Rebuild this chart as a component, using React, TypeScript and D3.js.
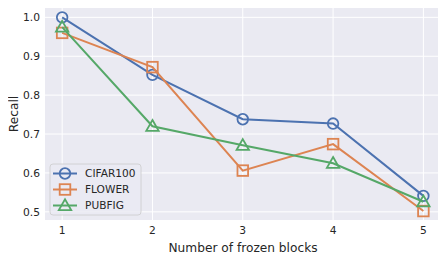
import React, { useEffect, useRef } from 'react';
import * as d3 from 'd3';

const blocks = [1, 2, 3, 4, 5];
const cifar100 = [1.0, 0.852, 0.738, 0.727, 0.541];
const flower = [0.96, 0.872, 0.606, 0.674, 0.502];
const pubfig = [0.975, 0.72, 0.671, 0.625, 0.526];
const yTicks = [0.5, 0.6, 0.7, 0.8, 0.9, 1.0];

const seriesList = [
  { name: 'CIFAR100', values: cifar100, color: '#4c72b0', marker: 'circle' },
  { name: 'FLOWER', values: flower, color: '#dd8452', marker: 'square' },
  { name: 'PUBFIG', values: pubfig, color: '#55a868', marker: 'triangle' },
];

const App: React.FC = () => {
  const svgRef = useRef<SVGSVGElement>(null);

  useEffect(() => {
    if (!svgRef.current) return;
    const svg = d3.select(svgRef.current);
    svg.selectAll('*').remove();

    const width = 446;
    const height = 260;
    const margin = { top: 8, right: 5, bottom: 40, left: 45 };
    const font = 'DejaVu Sans, sans-serif';

    const x = d3.scaleLinear().domain([0.81, 5.195]).range([margin.left, width - margin.right]);
    const y = d3.scaleLinear().domain([0.479, 1.024]).range([height - margin.bottom, margin.top]);

    svg.append('rect')
      .attr('x', margin.left).attr('y', margin.top)
      .attr('width', width - margin.left - margin.right)
      .attr('height', height - margin.top - margin.bottom)
      .attr('fill', '#eaeaf2');

    // grid
    svg.append('g').selectAll('line').data(blocks).enter().append('line')
      .attr('x1', d => x(d)).attr('x2', d => x(d))
      .attr('y1', margin.top).attr('y2', height - margin.bottom)
      .attr('stroke', '#fff').attr('stroke-width', 1);
    svg.append('g').selectAll('line').data(yTicks).enter().append('line')
      .attr('y1', d => y(d)).attr('y2', d => y(d))
      .attr('x1', margin.left).attr('x2', width - margin.right)
      .attr('stroke', '#fff').attr('stroke-width', 1);

    // tick labels
    svg.append('g').selectAll('text').data(blocks).enter().append('text')
      .attr('x', d => x(d)).attr('y', height - margin.bottom + 14)
      .attr('text-anchor', 'middle').attr('font-family', font).attr('font-size', 10.7)
      .attr('fill', '#262626').text(d => String(d));
    svg.append('g').selectAll('text').data(yTicks).enter().append('text')
      .attr('x', margin.left - 5).attr('y', d => y(d)).attr('dy', '0.35em')
      .attr('text-anchor', 'end').attr('font-family', font).attr('font-size', 10.7)
      .attr('fill', '#262626').text(d => d.toFixed(1));

    svg.append('text')
      .attr('x', (margin.left + width - margin.right) / 2).attr('y', height - 8)
      .attr('text-anchor', 'middle').attr('font-family', font).attr('font-size', 12.2)
      .attr('fill', '#262626').text('Number of frozen blocks');
    svg.append('text')
      .attr('transform', `translate(17.5,${(margin.top + height - margin.bottom) / 2}) rotate(-90)`)
      .attr('text-anchor', 'middle').attr('font-family', font).attr('font-size', 12.2)
      .attr('fill', '#262626').text('Recall');

    const drawMarker = (g: d3.Selection<SVGGElement, unknown, null, undefined>, kind: string, cx: number, cy: number, color: string) => {
      if (kind === 'circle') {
        g.append('circle').attr('cx', cx).attr('cy', cy).attr('r', 5.3)
          .attr('fill', 'none').attr('stroke', color).attr('stroke-width', 1.8);
      } else if (kind === 'square') {
        g.append('rect').attr('x', cx - 5.3).attr('y', cy - 5.3).attr('width', 10.6).attr('height', 10.6)
          .attr('fill', 'none').attr('stroke', color).attr('stroke-width', 1.8);
      } else {
        const s = 6.2;
        g.append('path')
          .attr('d', `M${cx},${cy - s}L${cx + s},${cy + s * 0.75}L${cx - s},${cy + s * 0.75}Z`)
          .attr('fill', 'none').attr('stroke', color).attr('stroke-width', 1.8)
          .attr('stroke-linejoin', 'miter');
      }
    };

    const line = d3.line<number>().x((_, i) => x(blocks[i])).y(d => y(d));

    seriesList.forEach(s => {
      const g = svg.append('g');
      g.append('path').datum(s.values).attr('d', line)
        .attr('fill', 'none').attr('stroke', s.color).attr('stroke-width', 2);
      s.values.forEach((v, i) => drawMarker(g, s.marker, x(blocks[i]), y(v), s.color));
    });

    // legend
    const lg = svg.append('g').attr('transform', 'translate(50,164)');
    lg.append('rect').attr('width', 91).attr('height', 51).attr('rx', 3)
      .attr('fill', '#eaeaf2').attr('fill-opacity', 0.8).attr('stroke', '#cccccc').attr('stroke-width', 0.8);
    seriesList.forEach((s, i) => {
      const yy = 9.5 + i * 16;
      const row = lg.append('g');
      row.append('line').attr('x1', 3).attr('x2', 27).attr('y1', yy).attr('y2', yy)
        .attr('stroke', s.color).attr('stroke-width', 2);
      drawMarker(row, s.marker, 15, yy, s.color);
      row.append('text').attr('x', 35).attr('y', yy).attr('dy', '0.35em')
        .attr('font-family', font).attr('font-size', 10.6).attr('fill', '#262626').text(s.name);
    });
  }, []);

  return <svg ref={svgRef} width={446} height={260} style={{ display: 'block', margin: '-8px' }} />;
};

export default App;
